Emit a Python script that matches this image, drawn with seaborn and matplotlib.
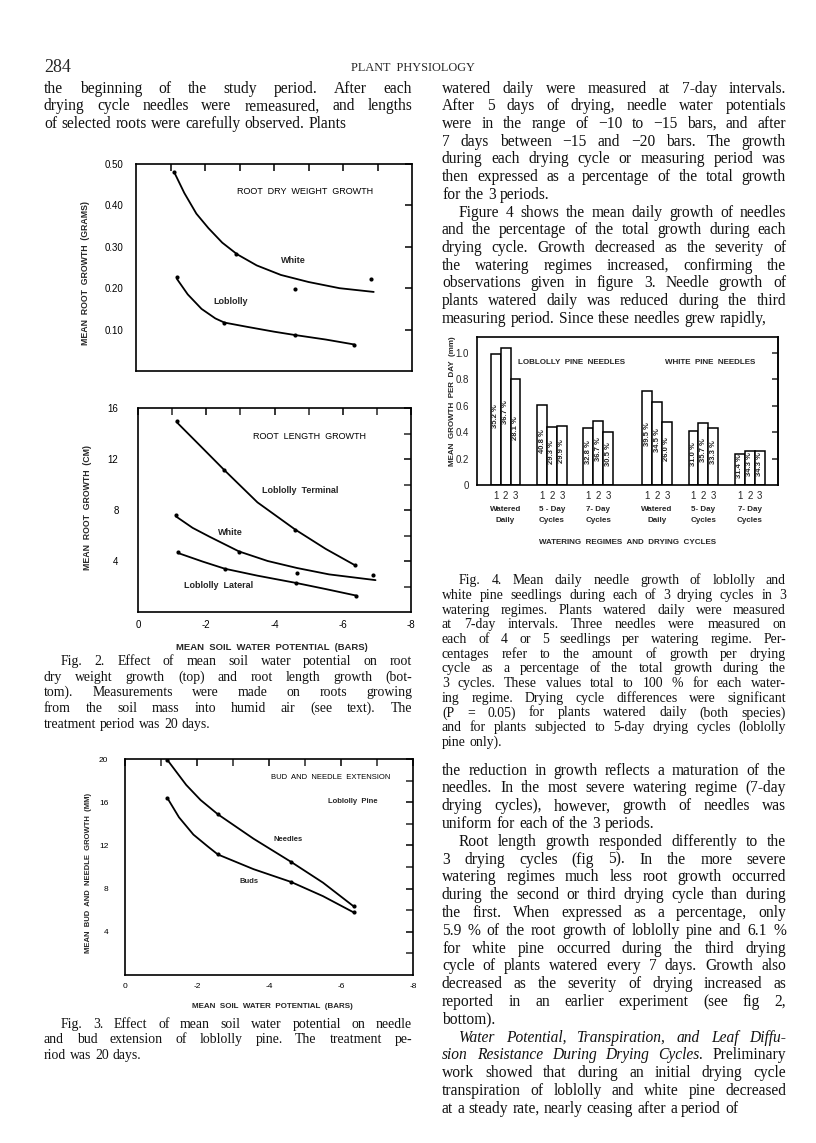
import numpy as np
import pandas as pd
import matplotlib
matplotlib.use("Agg")
import matplotlib.pyplot as plt
import seaborn as sns

# ---------------- data ----------------
# Fig 2 top: root dry weight growth (g) vs mean soil water potential (bars)
dw_white_x = [-1.1, -2.9, -4.6, -6.8]
dw_white_y = [0.48, 0.282, 0.199, 0.222]
dw_white_fit_x = [-1.12, -1.4, -1.75, -2.1, -2.5, -2.93, -3.5, -4.2, -5.0, -5.9, -6.89]
dw_white_fit_y = [0.478, 0.43, 0.38, 0.345, 0.31, 0.282, 0.255, 0.232, 0.215, 0.200, 0.191]
dw_lob_x = [-1.19, -2.56, -4.6, -6.33]
dw_lob_y = [0.227, 0.117, 0.086, 0.064]
dw_lob_fit_x = [-1.19, -1.5, -1.9, -2.3, -2.56, -3.2, -4.0, -4.6, -5.5, -6.33]
dw_lob_fit_y = [0.222, 0.185, 0.150, 0.127, 0.117, 0.107, 0.095, 0.087, 0.076, 0.064]

# Fig 2 bottom: root length growth (cm)
rl_term_x = [-1.13, -2.53, -4.61, -6.37]
rl_term_y = [14.96, 11.13, 6.46, 3.65]
rl_term_fit_x = [-1.13, -1.8, -2.53, -3.5, -4.61, -5.5, -6.37]
rl_term_fit_y = [14.9, 13.1, 11.13, 8.6, 6.46, 4.95, 3.65]
rl_white_x = [-1.11, -2.96, -4.66, -6.88]
rl_white_y = [7.59, 4.72, 3.02, 2.94]
rl_white_fit_x = [-1.11, -1.6, -2.1, -2.96, -3.8, -4.66, -5.6, -6.96]
rl_white_fit_y = [7.5, 6.6, 5.9, 4.75, 4.0, 3.45, 2.95, 2.5]
rl_lat_x = [-1.18, -2.55, -4.63, -6.39]
rl_lat_y = [4.70, 3.39, 2.28, 1.29]
rl_lat_fit_x = [-1.18, -1.9, -2.55, -3.5, -4.63, -5.5, -6.39]
rl_lat_fit_y = [4.62, 3.95, 3.39, 2.85, 2.28, 1.8, 1.29]

# Fig 3: bud and needle extension (mm), loblolly pine
ndl_x = [-1.18, -2.58, -4.61, -6.35]
ndl_y = [19.9, 14.88, 10.48, 6.36]
ndl_fit_x = [-1.18, -1.7, -2.1, -2.58, -3.57, -4.61, -5.5, -6.35]
ndl_fit_y = [19.9, 17.6, 16.2, 14.88, 12.62, 10.48, 8.55, 6.36]
bud_x = [-1.18, -2.58, -4.61, -6.35]
bud_y = [16.37, 11.16, 8.62, 5.80]
bud_fit_x = [-1.18, -1.5, -1.9, -2.3, -2.58, -3.57, -4.61, -5.5, -6.35]
bud_fit_y = [16.37, 14.6, 13.0, 11.9, 11.16, 9.8, 8.62, 7.3, 5.80]

# Fig 4: mean daily needle growth (mm) per drying cycle
species = ["Loblolly", "White"]
regimes = ["Watered daily", "5-day cycles", "7-day cycles"]
cycles = ["1", "2", "3"]
lob_growth = [0.99, 1.04, 0.80, 0.605, 0.44, 0.447, 0.432, 0.485, 0.402]
wht_growth = [0.711, 0.626, 0.477, 0.407, 0.47, 0.435, 0.234, 0.259, 0.259]
lob_pct = ["35.2 %", "36.7 %", "28.1 %", "40.8 %", "29.3 %", "29.9 %", "32.8 %", "36.7 %", "30.5 %"]
wht_pct = ["39.5 %", "34.5 %", "26.0 %", "31.0 %", "35.7 %", "33.3 %", "31.4 %", "34.3 %", "34.3 %"]
lob_regime_labels = ["Watered\nDaily", "5 - Day\nCycles", "7- Day\nCycles"]
wht_regime_labels = ["Watered\nDaily", "5- Day\nCycles", "7- Day\nCycles"]

# ---------------- page text ----------------
left_top = [
    "the beginning of the study period. After each",
    "drying cycle needles were remeasured, and lengths",
    "of selected roots were carefully observed. Plants",
]
right_top = [
    "watered daily were measured at 7-day intervals.",
    "After 5 days of drying, needle water potentials",
    "were in the range of \u221210 to \u221215 bars, and after",
    "7 days between \u221215 and \u221220 bars. The growth",
    "during each drying cycle or measuring period was",
    "then expressed as a percentage of the total growth",
    "for the 3 periods.",
    "Figure 4 shows the mean daily growth of needles",
    "and the percentage of the total growth during each",
    "drying cycle. Growth decreased as the severity of",
    "the watering regimes increased, confirming the",
    "observations given in figure 3. Needle growth of",
    "plants watered daily was reduced during the third",
    "measuring period. Since these needles grew rapidly,",
]
right_top_last = {6}
right_top_indent = {7}

right_bottom = [
    "the reduction in growth reflects a maturation of the",
    "needles. In the most severe watering regime (7-day",
    "drying cycles), however, growth of needles was",
    "uniform for each of the 3 periods.",
    "Root length growth responded differently to the",
    "3 drying cycles (fig 5). In the more severe",
    "watering regimes much less root growth occurred",
    "during the second or third drying cycle than during",
    "the first. When expressed as a percentage, only",
    "5.9 % of the root growth of loblolly pine and 6.1 %",
    "for white pine occurred during the third drying",
    "cycle of plants watered every 7 days. Growth also",
    "decreased as the severity of drying increased as",
    "reported in an earlier experiment (see fig 2,",
    "bottom).",
    "Water Potential, Transpiration, and Leaf Diffu-",
    "sion Resistance During Drying Cycles. Preliminary",
    "work showed that during an initial drying cycle",
    "transpiration of loblolly and white pine decreased",
    "at a steady rate, nearly ceasing after a period of",
]
right_bottom_last = {3, 14}
right_bottom_indent = {4, 15}
right_bottom_italic = {15: 6, 16: 5}

cap2 = [
    "Fig. 2.  Effect of mean soil water potential on root",
    "dry weight growth (top) and root length growth (bot-",
    "tom).  Measurements were made on roots growing",
    "from the soil mass into humid air (see text).  The",
    "treatment period was 20 days.",
]
cap3 = [
    "Fig. 3.  Effect of mean soil water potential on needle",
    "and bud extension of loblolly pine.  The treatment pe-",
    "riod was 20 days.",
]
cap4 = [
    "Fig. 4.  Mean daily needle growth of loblolly and",
    "white pine seedlings during each of 3 drying cycles in 3",
    "watering regimes.  Plants watered daily were measured",
    "at 7-day intervals.  Three needles were measured on",
    "each of 4 or 5 seedlings per watering regime.  Per-",
    "centages refer to the amount of growth per drying",
    "cycle as a percentage of the total growth during the",
    "3 cycles.  These values total to 100 % for each water-",
    "ing regime.  Drying cycle differences were significant",
    "(P = 0.05) for plants watered daily (both species)",
    "and for plants subjected to 5-day drying cycles (loblolly",
    "pine only).",
]

# ---------------- figure ----------------
W, H = 816, 1143
sns.set_theme(style="white")
plt.rcParams["font.family"] = ["Liberation Sans", "DejaVu Sans"]
plt.rcParams["axes.linewidth"] = 1.2
fig = plt.figure(figsize=(W / 100, H / 100), dpi=100)
fig.patch.set_facecolor("white")
rend = fig.canvas.get_renderer()
SERIF = "Liberation Serif"


def box(x0, y0, x1, y1):
    return [x0 / W, 1 - y1 / H, (x1 - x0) / W, (y1 - y0) / H]


def line(x0, x1, y, s, size=11, just=True, italic=0):
    # one justified line of serif text; y is the line centre in page pixels
    words = s.split()
    yb = y + 0.3 * size * 100 / 72
    ts = [fig.text(x0 / W, 1 - yb / H, w, family=SERIF, size=size, va="baseline",
                   style="italic" if i < italic else "normal", color="#111")
          for i, w in enumerate(words)]
    ws = [t.get_window_extent(rend).width for t in ts]
    gap = size * 100 / 72 * 0.27
    if just and len(words) > 1:
        gap = max((x1 - x0 - sum(ws)) / (len(words) - 1), 2.0)
    x = x0
    for t, w in zip(ts, ws):
        t.set_x(x / W)
        x += w + gap


def block(lines, x0, x1, y0, dy, size=11, last=(), indent=(), italic=None, ind=17):
    italic = italic or {}
    for i, s in enumerate(lines):
        xs = x0 + (ind if i in indent else 0)
        line(xs, x1, y0 + i * dy, s, size=size,
             just=(i not in last and i != len(lines) - 1), italic=italic.get(i, 0))


LX0, LX1, RX0, RX1 = 44, 412, 442, 786
BODY, CAP = 11.2, 9.9

fig.text(LX0 / W, 1 - 68 / H, "284", family=SERIF, size=13, va="center")
fig.text(413 / W, 1 - 68 / H, "PLANT  PHYSIOLOGY", family=SERIF, size=8.8,
         va="center", ha="center")

block(left_top, LX0, LX1, 88, 17.7, size=BODY)
block(right_top, RX0, RX1, 88, 17.7, size=BODY, last=right_top_last, indent=right_top_indent)
block(right_bottom, RX0, RX1, 770, 17.8, size=BODY, last=right_bottom_last,
      indent=right_bottom_indent, italic=right_bottom_italic)
block(cap2, LX0, LX1, 661, 15.6, size=CAP, indent={0})
block(cap3, LX0, LX1, 1024, 15.3, size=CAP, indent={0})
block(cap4, RX0, RX1, 580, 14.7, size=CAP, indent={0})

LW = 1.3
TXT = dict(color="black", fontsize=6.5)


def curve(ax, fx, fy, px, py):
    sns.lineplot(x=fx, y=fy, sort=False, estimator=None, color="black", lw=LW, ax=ax)
    sns.scatterplot(x=px, y=py, color="black", s=9, linewidth=0, ax=ax, zorder=3)


def frame(ax):
    ax.tick_params(direction="in", top=True, right=True, length=5, width=1.1,
                   labelsize=7, colors="black", pad=6)
    for sp in ax.spines.values():
        sp.set_color("black")
    ax.set_xlabel("")
    ax.set_ylabel("")


# ---- Fig 2 top
ax1 = fig.add_axes(box(136, 164, 412, 371))
curve(ax1, dw_white_fit_x, dw_white_fit_y, dw_white_x, dw_white_y)
curve(ax1, dw_lob_fit_x, dw_lob_fit_y, dw_lob_x, dw_lob_y)
ax1.set_xlim(0, -8)
ax1.set_ylim(0, 0.5)
ax1.set_xticks(np.arange(-1, -8, -1))
ax1.set_xticklabels([])
ax1.set_yticks([0.1, 0.2, 0.3, 0.4, 0.5])
ax1.set_yticklabels(["0.10", "0.20", "0.30", "0.40", "0.50"])
frame(ax1)
ax1.tick_params(axis="y", pad=9)
ax1.text(-2.93, 0.433, "ROOT  DRY  WEIGHT  GROWTH", ha="left", va="center", **TXT)
ax1.text(-4.2, 0.267, "White", ha="left", va="center", fontweight="bold", fontsize=6.5)
ax1.text(-2.25, 0.169, "Loblolly", ha="left", va="center", fontweight="bold", fontsize=6.5)
fig.text(86 / W, 1 - 273 / H, "MEAN  ROOT  GROWTH  (GRAMS)", rotation=90,
         ha="center", va="center", fontsize=6.3, fontweight="bold")

# ---- Fig 2 bottom
ax2 = fig.add_axes(box(138, 408, 411, 612))
curve(ax2, rl_term_fit_x, rl_term_fit_y, rl_term_x, rl_term_y)
curve(ax2, rl_white_fit_x, rl_white_fit_y, rl_white_x, rl_white_y)
curve(ax2, rl_lat_fit_x, rl_lat_fit_y, rl_lat_x, rl_lat_y)
ax2.set_xlim(0, -8)
ax2.set_ylim(0, 16)
ax2.set_xticks([0, -2, -4, -6, -8])
ax2.set_xticklabels(["0", "-2", "-4", "-6", "-8"])
ax2.set_xticks(np.arange(-1, -8, -2), minor=True)
ax2.set_yticks([4, 8, 12, 16])
ax2.set_yticklabels(["4", "8", "12", "16"])
ax2.set_yticks([2, 6, 10, 14], minor=True)
frame(ax2)
ax2.tick_params(which="minor", direction="in", top=True, right=True, length=5, width=1.1)
ax2.tick_params(axis="y", pad=14)
ax2.text(-3.38, 13.75, "ROOT  LENGTH  GROWTH", ha="left", va="center", **TXT)
ax2.text(-3.63, 9.55, "Loblolly  Terminal", ha="left", va="center", fontweight="bold", fontsize=6.5)
ax2.text(-2.35, 6.27, "White", ha="left", va="center", fontweight="bold", fontsize=6.5)
ax2.text(-1.35, 2.07, "Loblolly  Lateral", ha="left", va="center", fontweight="bold", fontsize=6.5)
fig.text(88 / W, 1 - 507 / H, "MEAN  ROOT  GROWTH  (CM)", rotation=90,
         ha="center", va="center", fontsize=6.3, fontweight="bold")
fig.text(272 / W, 1 - 647 / H, "MEAN  SOIL  WATER  POTENTIAL  (BARS)",
         ha="center", va="center", fontsize=6.8, fontweight="bold")

# ---- Fig 3
ax3 = fig.add_axes(box(125, 759, 413, 975))
curve(ax3, ndl_fit_x, ndl_fit_y, ndl_x, ndl_y)
curve(ax3, bud_fit_x, bud_fit_y, bud_x, bud_y)
ax3.set_xlim(0, -8)
ax3.set_ylim(0, 20)
ax3.set_xticks([0, -2, -4, -6, -8])
ax3.set_xticklabels(["0", "-2", "-4", "-6", "-8"])
ax3.set_xticks(np.arange(-1, -8, -2), minor=True)
ax3.set_yticks([4, 8, 12, 16, 20])
ax3.set_yticklabels(["4", "8", "12", "16", "20"])
ax3.set_yticks([2, 6, 10, 14, 18], minor=True)
frame(ax3)
ax3.tick_params(which="minor", direction="in", top=True, right=True, length=5, width=1.1)
ax3.tick_params(labelsize=6)
ax3.tick_params(axis="y", pad=12)
ax3.text(-4.06, 18.3, "BUD  AND  NEEDLE  EXTENSION", ha="left", va="center", color="black", fontsize=5.5)
ax3.text(-5.63, 16.1, "Loblolly  Pine", ha="left", va="center", fontsize=5.5, fontweight="bold")
ax3.text(-4.12, 12.56, "Needles", ha="left", va="center", fontsize=5.5, fontweight="bold")
ax3.text(-3.17, 8.62, "Buds", ha="left", va="center", fontsize=5.5, fontweight="bold")
fig.text(89 / W, 1 - 873 / H, "MEAN  BUD  AND  NEEDLE  GROWTH  (MM)", rotation=90,
         ha="center", va="center", fontsize=5.5, fontweight="bold")
fig.text(272 / W, 1 - 1006 / H, "MEAN  SOIL  WATER  POTENTIAL  (BARS)",
         ha="center", va="center", fontsize=5.8, fontweight="bold")

# ---- Fig 4 bar chart
rows = []
for s, vals, pcts in [(0, lob_growth, lob_pct), (1, wht_growth, wht_pct)]:
    for r in range(3):
        for c in range(3):
            i = r * 3 + c
            rows.append(dict(species=species[s], regime=regimes[r], cycle=cycles[c],
                             growth=vals[i], pct=pcts[i],
                             pos=s * 15.25 + r * 4.67 + c))
df = pd.DataFrame(rows)

ax4 = fig.add_axes(box(477, 337, 778, 485))
sns.barplot(data=df, x="pos", y="growth", native_scale=True, width=1.0,
            color="white", edgecolor="black", linewidth=1.1, errorbar=None,
            saturation=1, ax=ax4)
ax4.set_xlim(-1.88, 28.43)
ax4.set_ylim(0, 1.12)
ax4.set_yticks([0, 0.2, 0.4, 0.6, 0.8, 1.0])
ax4.set_yticklabels(["0", "0.2", "0.4", "0.6", "0.8", "1.0"])
ax4.set_xticks(df["pos"])
ax4.set_xticklabels(df["cycle"])
ax4.tick_params(axis="x", length=0, labelsize=7, pad=4)
ax4.tick_params(axis="y", direction="out", length=4, width=1.1, labelsize=7, pad=2)
for sp in ax4.spines.values():
    sp.set_color("black")
sec = ax4.secondary_yaxis("right")
sec.set_yticks([0.2, 0.4, 0.6, 0.8, 1.0])
sec.tick_params(direction="in", length=4, width=1.1, labelright=False)
ax4.set_xlabel("")
ax4.set_ylabel("")
for _, rw in df.iterrows():
    ax4.text(rw["pos"], rw["growth"] * 0.5 + 0.03, rw["pct"], rotation=90,
             ha="center", va="center", fontsize=5.5, fontweight="bold")
trans = ax4.get_xaxis_transform()
for s, labs in [(0, lob_regime_labels), (1, wht_regime_labels)]:
    for r in range(3):
        xc = s * 15.25 + r * 4.67 + 1
        ax4.text(xc, -0.2, labs[r], transform=trans, ha="center", va="center",
                 fontsize=5.8, fontweight="bold", linespacing=1.8)
ax4.text(7.6, 0.93, "LOBLOLLY  PINE  NEEDLES", ha="center", va="center", fontsize=5.8, fontweight="bold")
ax4.text(21.6, 0.93, "WHITE  PINE  NEEDLES", ha="center", va="center", fontsize=5.8, fontweight="bold")
fig.text(452 / W, 1 - 401 / H, "MEAN  GROWTH  PER  DAY  (mm)", rotation=90,
         ha="center", va="center", fontsize=5.8, fontweight="bold")
fig.text(628 / W, 1 - 542 / H, "WATERING  REGIMES  AND  DRYING  CYCLES",
         ha="center", va="center", fontsize=5.8, fontweight="bold")

fig.savefig("out.png", dpi=100, facecolor="white")
